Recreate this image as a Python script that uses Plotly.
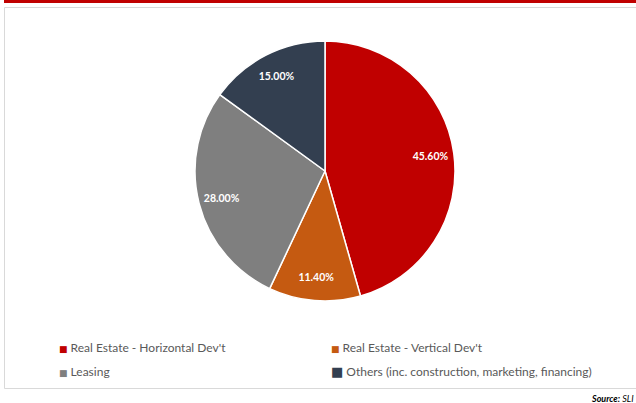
import plotly.graph_objects as go

# Revenue breakdown by segment
segments = [
    "Real Estate - Horizontal Dev't",
    "Real Estate - Vertical Dev't",
    "Leasing",
    "Others (inc. construction, marketing, financing)",
]
shares = [45.60, 11.40, 28.00, 15.00]
colors = ["#C00000", "#C55A11", "#7F7F7F", "#333F50"]

# legend layout: which legend box each entry goes in, and swatch glyph size
legend_ids = ["legend", "legend2", "legend", "legend2"]
swatch_px = [9, 9, 9, 13]

W, H = 636, 403
FONT = "Lato"
PIE_DOMAIN = dict(x=[195 / W, 455 / W], y=[1 - 301 / H, 1 - 41 / H])

fig = go.Figure()

# filled slices
fig.add_trace(go.Pie(
    labels=segments,
    values=shares,
    sort=False,
    direction="clockwise",
    rotation=0,
    marker=dict(colors=colors, line=dict(color="white", width=1.5)),
    textinfo="none",
    hoverinfo="label+value",
    showlegend=False,
    domain=PIE_DOMAIN,
))

# value labels placed in an outer ring of the same pie
fig.add_trace(go.Pie(
    labels=segments,
    values=shares,
    sort=False,
    direction="clockwise",
    rotation=0,
    hole=0.64,
    marker=dict(colors=["rgba(0,0,0,0)"] * len(shares), line=dict(width=0)),
    texttemplate="%{value:.2f}%",
    textposition="inside",
    insidetextorientation="horizontal",
    textfont=dict(family=FONT, size=10.5, color="white", weight="bold"),
    hoverinfo="skip",
    showlegend=False,
    domain=PIE_DOMAIN,
))

# legend entries, swatch drawn as a coloured square glyph
for name, col, lg, px in zip(segments, colors, legend_ids, swatch_px):
    fig.add_trace(go.Scatter(
        x=[None], y=[None], mode="markers",
        name=f"<span style='color:{col};font-size:{px}px;font-family:DejaVu Sans'>■</span> {name}",
        legendgroup=name,
        legend=lg,
        marker=dict(symbol="square", size=1, color="rgba(0,0,0,0)"),
        showlegend=True,
    ))

legend_common = dict(
    orientation="v",
    xanchor="left", yanchor="top",
    y=1 - 333 / H,
    tracegroupgap=5,
    itemsizing="trace",
    font=dict(family=FONT, size=12, color="#595959"),
    bgcolor="rgba(0,0,0,0)",
)

fig.update_layout(
    width=W, height=H,
    margin=dict(l=0, r=0, t=0, b=0),
    paper_bgcolor="white",
    plot_bgcolor="white",
    xaxis=dict(visible=False),
    yaxis=dict(visible=False),
    font=dict(family=FONT, size=12, color="#595959"),
    legend=dict(x=19 / W, **legend_common),
    legend2=dict(x=291 / W, **legend_common),
    shapes=[
        # red rule along the top
        dict(type="rect", xref="paper", yref="paper",
             x0=4 / W, x1=1.0, y0=1 - 3 / H, y1=1.0,
             fillcolor="#C00000", line=dict(width=0)),
        # light frame around the chart
        dict(type="rect", xref="paper", yref="paper",
             x0=4.5 / W, x1=1.01, y0=1 - 388.5 / H, y1=1 - 7.5 / H,
             fillcolor="rgba(0,0,0,0)", line=dict(color="#D9D9D9", width=1)),
    ],
    annotations=[
        dict(xref="paper", yref="paper", x=1.0, y=1 - 398 / H,
             xanchor="right", yanchor="middle", showarrow=False,
             text="<b><i>Source:</i></b> <i>SLI</i>",
             font=dict(family=FONT, size=9, color="#000000")),
    ],
)

fig.write_html("out.html")
